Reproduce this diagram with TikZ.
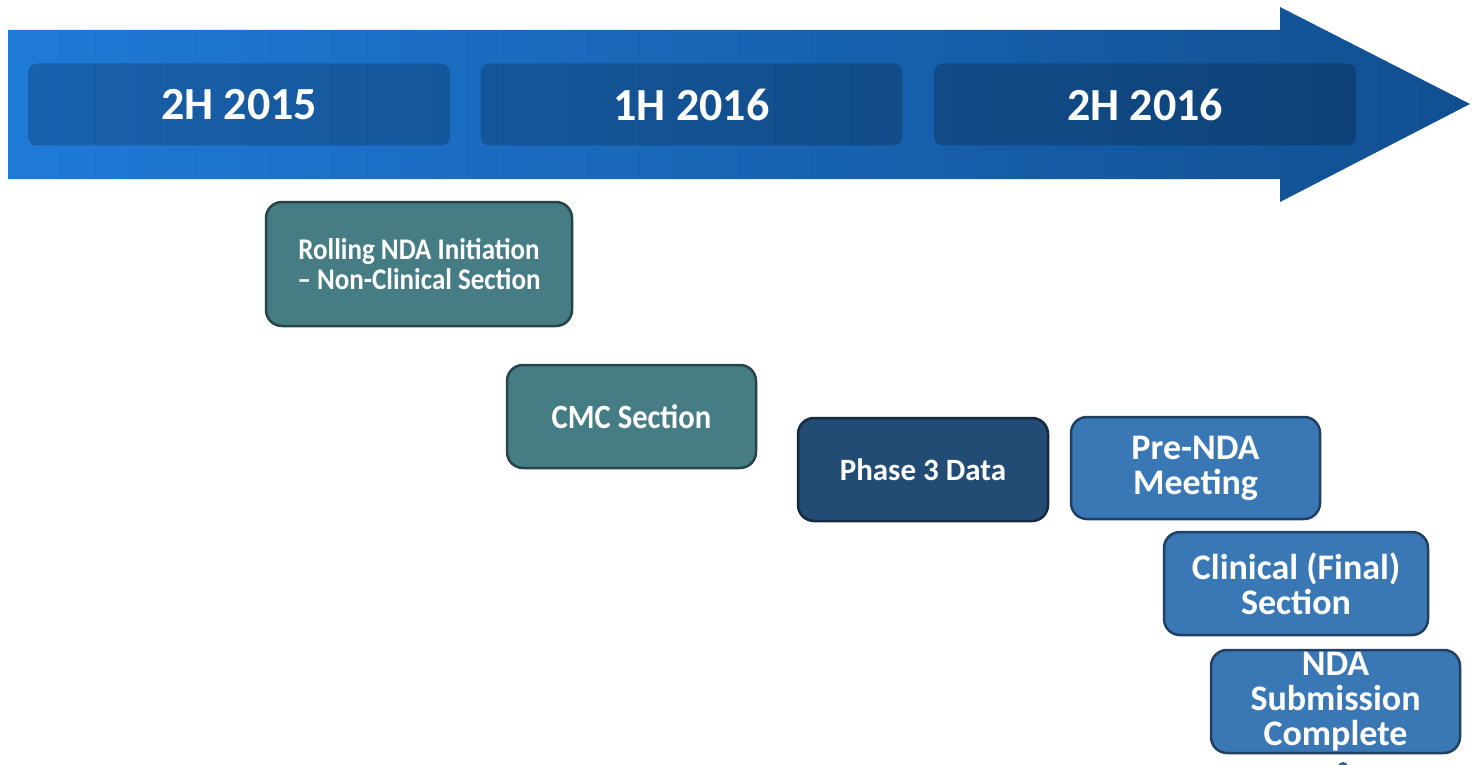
\documentclass[tikz,border=0pt]{standalone}
\usepackage{fontspec}
\setmainfont{Carlito}
\newfontfamily\condfont[FakeStretch=0.9]{Carlito}
\begin{document}
\begin{tikzpicture}[x=1pt,y=-1pt,
  period/.style={fill=black,fill opacity=0.2,text opacity=1,rounded corners=9pt,
    minimum width=422pt,minimum height=82pt,inner sep=0pt,text=white,
    font=\fontsize{46}{50}\selectfont\bfseries},
  milestone/.style={draw=#1!55!black,line width=2.5pt,fill=#1,rounded corners=16pt,
    inner sep=0pt,text=white,align=center},
  cond/.style={font=\condfont\fontsize{30}{31}\selectfont\bfseries},
  reg/.style={font=\fontsize{36}{35}\selectfont\bfseries}]
\definecolor{shaftL}{HTML}{1F7AD8}
\definecolor{shaftR}{HTML}{114F90}
\definecolor{tealbox}{HTML}{467C84}
\definecolor{navybox}{HTML}{234C74}
\definecolor{bluebox}{HTML}{3A77B5}
\useasboundingbox (0,0) rectangle (1478,765);
\fill[white] (0,0) rectangle (1478,765);
% main arrow
\shade[left color=shaftL,right color=shaftR]
  (8,30) -- (1280,30) -- (1280,7) -- (1470,104) -- (1280,202) -- (1280,179) -- (8,179) -- cycle;
% periods
\node[period] (p1) at (239,104.5) {2H 2015};
\node[period] (p2) at (691.5,104.5) {1H 2016};
\node[period] (p3) at (1145,104.5) {2H 2016};
% milestones
\node[milestone=tealbox,cond,minimum width=306pt,minimum height=124pt] (m1) at (419,264)
  {Rolling NDA Initiation\\[-1pt]–\ Non-Clinical Section};
\node[milestone=tealbox,font=\condfont\fontsize{34}{35}\selectfont\bfseries,
  minimum width=249pt,minimum height=103pt] (m2) at (631.5,416.5) {CMC Section};
\node[milestone=navybox,font=\fontsize{31}{33}\selectfont\bfseries,
  minimum width=250pt,minimum height=103pt] (m3) at (923,469.5) {Phase 3 Data};
\node[milestone=bluebox,reg,minimum width=249pt,minimum height=102pt] (m4) at (1195.5,468)
  {Pre-NDA\\Meeting};
\node[milestone=bluebox,reg,minimum width=264pt,minimum height=103pt] (m5) at (1296,583.5)
  {Clinical (Final)\\Section};
\node[milestone=bluebox,reg,minimum width=249pt,minimum height=103pt] (m6) at (1335.5,701.5)
  {NDA\\Submission\\Complete};
% partial dot below last box
\fill[bluebox!80!black] (1343,767) circle (5pt);
\end{tikzpicture}
\end{document}
